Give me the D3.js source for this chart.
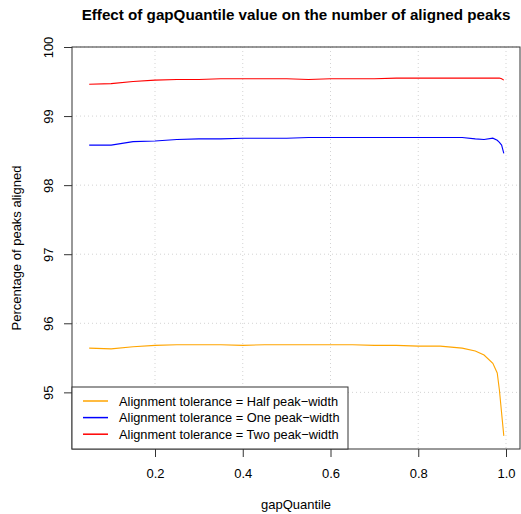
<!DOCTYPE html>
<html>
<head>
<meta charset="utf-8">
<script src="https://cdn.jsdelivr.net/npm/d3@7"></script>
<style>
  html, body { margin: 0; padding: 0; background: #fff; }
  svg { display: block; font-family: "Liberation Sans", Arial, Helvetica, sans-serif; }
</style>
</head>
<body>
<svg id="chart" width="521" height="514"></svg>
<script>
const gapQuantile = [0.05,0.1,0.15,0.2,0.25,0.3,0.35,0.4,0.45,0.5,0.55,0.6,0.65,0.7,0.75,0.8,0.85,0.9,0.93,0.95,0.97,0.98,0.985,0.99,0.995];
const halfPeakWidth = [95.64,95.63,95.66,95.68,95.69,95.69,95.69,95.68,95.69,95.69,95.69,95.69,95.69,95.68,95.68,95.67,95.67,95.64,95.60,95.54,95.42,95.28,95.03,94.70,94.37];
const onePeakWidth = [98.58,98.58,98.63,98.64,98.66,98.67,98.67,98.68,98.68,98.68,98.69,98.69,98.69,98.69,98.69,98.69,98.69,98.69,98.67,98.66,98.68,98.65,98.62,98.58,98.46];
const twoPeakWidth = [99.46,99.47,99.50,99.52,99.53,99.53,99.54,99.54,99.54,99.54,99.53,99.54,99.54,99.54,99.55,99.55,99.55,99.55,99.55,99.55,99.55,99.55,99.55,99.54,99.52];
const seriesNames = ["Alignment tolerance = Half peak\u2212width","Alignment tolerance = One peak\u2212width","Alignment tolerance = Two peak\u2212width"];
const seriesColors = ["#FFA500","#0000FF","#FF0000"];
const xTicks = [0.2,0.4,0.6,0.8,1.0];
const yTicks = [95,96,97,98,99,100];
const titleText = "Effect of gapQuantile value on the number of aligned peaks";
const xLabel = "gapQuantile";
const yLabel = "Percentage of peaks aligned";

const svg = d3.select("#chart");
const L = 72, R = 520, T = 47, B = 449;
const x = d3.scaleLinear().domain([0.0108, 1.0319]).range([L, R]);
const y = d3.scaleLinear().domain([94.18, 100.0]).range([B, T]);
const axisCol = "#333";

// grid
const grid = svg.append("g");
xTicks.forEach(t => grid.append("line").attr("x1", x(t)).attr("x2", x(t)).attr("y1", T).attr("y2", B)
  .attr("stroke", "#d3d3d3").attr("stroke-dasharray", "1,3"));
yTicks.forEach(t => grid.append("line").attr("x1", L).attr("x2", R).attr("y1", y(t)).attr("y2", y(t))
  .attr("stroke", "#d3d3d3").attr("stroke-dasharray", "1,3"));

// lines
const series = [halfPeakWidth, onePeakWidth, twoPeakWidth];
const line = d3.line().x((d, i) => x(gapQuantile[i])).y(d => y(d));
series.forEach((s, k) => {
  svg.append("path").datum(s).attr("d", line).attr("fill", "none")
    .attr("stroke", seriesColors[k]).attr("stroke-width", 1.1);
});

// axes
const xAxis = d3.axisBottom(x).tickValues(xTicks).tickFormat(d3.format(".1f")).tickSize(8).tickSizeOuter(0);
const gx = svg.append("g").attr("transform", `translate(0,${B})`).call(xAxis);
gx.select(".domain").remove();
gx.selectAll(".tick line").attr("stroke", axisCol);
gx.selectAll(".tick text").attr("font-size", 13).attr("fill", "#000").attr("dy", null).attr("y", 29)
  .attr("font-family", "Liberation Sans, Arial, sans-serif");

const yAxis = d3.axisLeft(y).tickValues(yTicks).tickFormat(d3.format("d")).tickSize(8).tickSizeOuter(0);
const gy = svg.append("g").attr("transform", `translate(${L},0)`).call(yAxis);
gy.select(".domain").remove();
gy.selectAll(".tick line").attr("stroke", axisCol);
gy.selectAll(".tick text").attr("font-size", 13).attr("fill", "#000")
  .attr("x", null).attr("dy", null).attr("text-anchor", "middle")
  .attr("transform", "translate(-19,0) rotate(-90)")
  .attr("font-family", "Liberation Sans, Arial, sans-serif");

// box
svg.append("rect").attr("x", L).attr("y", T).attr("width", R - L).attr("height", B - T)
  .attr("fill", "none").attr("stroke", axisCol).attr("stroke-width", 1);

// titles
svg.append("text").attr("x", (L + R) / 2).attr("y", 20).attr("text-anchor", "middle")
  .attr("font-size", 15.2).attr("font-weight", "bold").text(titleText);
svg.append("text").attr("x", (L + R) / 2).attr("y", 509).attr("text-anchor", "middle")
  .attr("font-size", 13).text(xLabel);
svg.append("text").attr("transform", `translate(21,${(T + B) / 2}) rotate(-90)`).attr("text-anchor", "middle")
  .attr("font-size", 13).text(yLabel);

// legend
const lg = svg.append("g");
lg.append("rect").attr("x", L).attr("y", 387).attr("width", 276).attr("height", B - 387)
  .attr("fill", "#fff").attr("stroke", axisCol);
seriesNames.forEach((n, k) => {
  const yy = 401 + k * 16.6;
  lg.append("line").attr("x1", 83).attr("x2", 108).attr("y1", yy).attr("y2", yy)
    .attr("stroke", seriesColors[k]).attr("stroke-width", 1.5);
  lg.append("text").attr("x", 119).attr("y", yy + 4.5).attr("font-size", 12.8).text(n);
});
</script>
</body>
</html>
